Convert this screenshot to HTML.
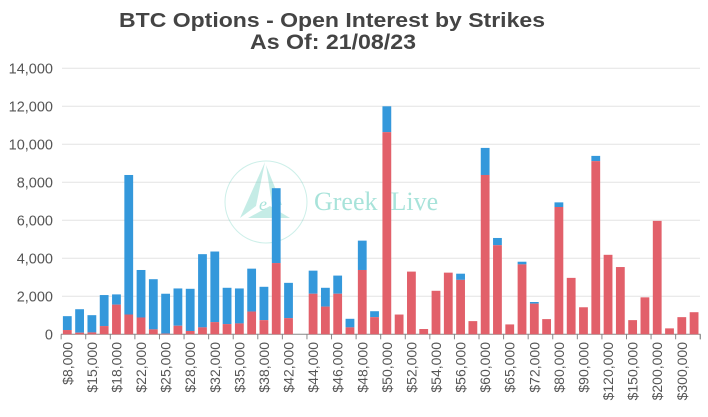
<!DOCTYPE html>
<html><head><meta charset="utf-8"><style>
html,body{margin:0;padding:0;background:#fff;}
svg{display:block;font-family:"Liberation Sans",sans-serif;}
</style></head><body>
<svg id="c" width="708" height="417" viewBox="0 0 708 417" xmlns="http://www.w3.org/2000/svg">
<rect width="708" height="417" fill="#fff"/>
<text x="332" y="27" text-anchor="middle" font-size="20" font-weight="bold" fill="#444" textLength="426" lengthAdjust="spacingAndGlyphs">BTC Options - Open Interest by Strikes</text>
<text x="333" y="49" text-anchor="middle" font-size="21" font-weight="bold" fill="#444" textLength="166" lengthAdjust="spacingAndGlyphs">As Of: 21/08/23</text>
<g id="grid"></g>
<g opacity="0.35" fill="none" stroke="#6fd0c0">
<circle cx="266" cy="202" r="41" stroke-width="1"/>
</g>
<g opacity="0.45" fill="#7fd6c8">
<polygon points="265,162 240,218 256,206"/>
<polygon points="266,165 282,205 272,205"/>
<polygon points="248,218 290,218 270,206"/>
</g>
<text x="259" y="210" font-family="Liberation Serif,serif" font-style="italic" font-size="18" fill="#a8e3da">e</text>
<text x="314" y="210" font-family="Liberation Serif,serif" font-size="26" fill="#a8e3da">Greek .Live</text>
<g id="bars"></g>
<g id="lab"></g>
</svg>
<script>
var d=[[955,225],[1320,87],[1007,100],[2066,434],[2100,1562],[8385,1042],[3385,885],[2900,260],[2135,35],[2413,451],[2395,174],[4218,365],[4357,642],[2448,538],[2413,573],[3455,1198],[2500,746],[7690,3750],[2708,851],[0,0],[3350,2135],[2448,1458],[3090,2135],[816,365],[4930,3385],[1215,903],
[12000,10640],[1040,1040],[3300,3300],[278,278],[2290,2290],[3245,3245],[3190,2865],[694,694],[9810,8385],[5070,4690],[520,520],[3820,3680],[1700,1615],[800,800],[6944,6700],[2970,2970],[1423,1423],[9390,9115],[4184,4184],[3540,3540],[746,746],[1945,1945],[5970,5970],[312,312],[903,903],[1163,1163]];
var labs=["$8,000","$15,000","$18,000","$22,000","$25,000","$28,000","$32,000","$35,000","$38,000","$42,000","$44,000","$46,000","$48,000","$50,000","$52,000","$54,000","$56,000","$60,000","$65,000","$72,000","$80,000","$90,000","$120,000","$150,000","$200,000","$300,000"];
var NS="http://www.w3.org/2000/svg";
function el(p,t,a,txt){var e=document.createElementNS(NS,t);for(var k in a)e.setAttribute(k,a[k]);if(txt)e.textContent=txt;document.getElementById(p).appendChild(e);}
var y0=334.3,k=0.019,x0=61.15,w=12.29;
for(var v=0;v<=14000;v+=2000){var y=y0-v*k;
 if(v>0)el("grid","line",{x1:62,x2:700,y1:y,y2:y,stroke:"#e3e3e3","stroke-width":1});
 el("grid","text",{x:53,y:y+5,"text-anchor":"end","font-size":"14.5",fill:"#555"},v.toLocaleString("en-US"));}
el("grid","line",{x1:61,x2:700.5,y1:y0,y2:y0,stroke:"#888","stroke-width":1});
d.forEach(function(b,i){var cx=x0+w*(i+0.5),bx=cx-4.4,bw=8.8;
 if(b[0]>b[1])el("bars","rect",{x:bx,y:y0-b[0]*k,width:bw,height:(b[0]-b[1])*k,fill:"#3498db"});
 if(b[1]>0)el("bars","rect",{x:bx,y:y0-b[1]*k,width:bw,height:b[1]*k,fill:"#e2606a"});});
for(var i=0;i<=52;i+=2){var x=x0+w*i;el("lab","line",{x1:x,x2:x,y1:y0,y2:y0+5,stroke:"#888"});}
el("lab","line",{x1:700.3,x2:700.3,y1:y0,y2:y0+5,stroke:"#888"});
labs.forEach(function(t,j){var cx=x0+w*(2*j+0.5)+5;
 el("lab","text",{x:0,y:0,"text-anchor":"end","font-size":"14",fill:"#555",transform:"translate("+cx+",342) rotate(-90)"},t);});
</script>
</body></html>
